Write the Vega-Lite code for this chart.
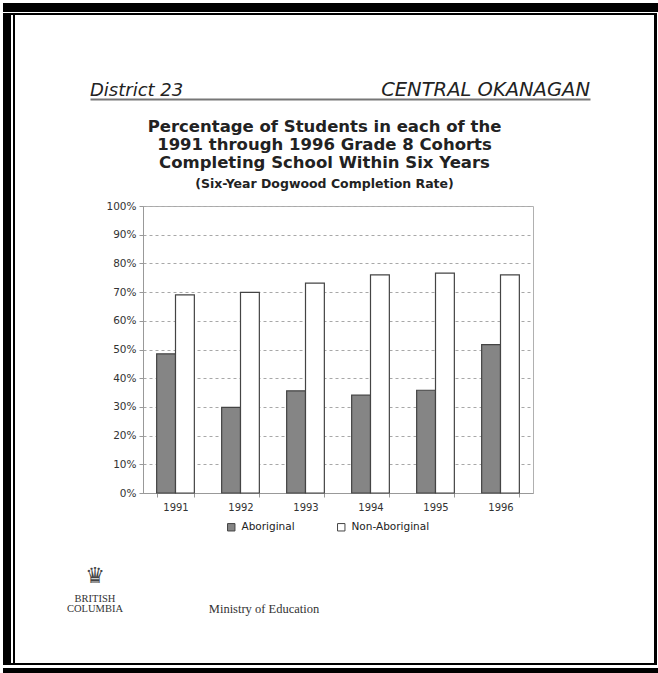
{
  "$schema": "https://vega.github.io/schema/vega-lite/v6.json",
  "background": "white",
  "padding": {"left": 3, "top": 3, "right": 0, "bottom": 0},
  "spacing": 0,
  "config": {
    "view": {"stroke": null},
    "concat": {"spacing": 0},
    "font": "DejaVu Sans"
  },
  "vconcat": [
    {"width": 655, "height": 9, "view": {"fill": "black"}, "data": {"values": []}, "mark": "point"},
    {"width": 655, "height": 1, "data": {"values": []}, "mark": "point"},
    {"width": 654, "height": 2, "view": {"fill": "black"}, "data": {"values": []}, "mark": "point"},
    {
      "spacing": 0,
      "hconcat": [
        {"width": 8, "height": 648, "view": {"fill": "black"}, "data": {"values": []}, "mark": "point"},
        {"width": 2, "height": 648, "data": {"values": []}, "mark": "point"},
        {"width": 2, "height": 648, "view": {"fill": "black"}, "data": {"values": []}, "mark": "point"},
        {
          "spacing": 0,
          "vconcat": [
            {"width": 639, "height": 65, "data": {"values": []}, "mark": "point"},
            {
              "spacing": 0,
              "hconcat": [
                {"width": 75, "height": 1, "data": {"values": []}, "mark": "point"},
                {
                  "width": 500,
                  "height": 19,
                  "data": {"values": [
                    {"label": "District 23", "side": "left"},
                    {"label": "CENTRAL OKANAGAN", "side": "right"}
                  ]},
                  "layer": [
                    {
                      "transform": [{"filter": "datum.side === 'left'"}],
                      "mark": {"type": "text", "align": "left", "baseline": "alphabetic", "dy": 6.5, "font": "DejaVu Sans", "fontStyle": "italic", "fontSize": 18, "fill": "#222"},
                      "encoding": {
                        "x": {"field": "side", "type": "nominal", "scale": {"type": "point", "domain": ["left", "right"], "padding": 0},
                              "axis": {"orient": "bottom", "labels": false, "ticks": false, "title": null, "grid": false, "domainColor": "#777", "domainWidth": 2}},
                        "text": {"field": "label", "type": "nominal"}
                      }
                    },
                    {
                      "transform": [{"filter": "datum.side === 'right'"}],
                      "mark": {"type": "text", "align": "right", "baseline": "alphabetic", "dy": 6.5, "font": "DejaVu Sans", "fontStyle": "italic", "fontSize": 19.5, "fill": "#222"},
                      "encoding": {
                        "x": {"field": "side", "type": "nominal"},
                        "text": {"field": "label", "type": "nominal"}
                      }
                    }
                  ]
                }
              ]
            },
            {"width": 1, "height": 18, "data": {"values": []}, "mark": "point"},
            {
              "spacing": 0,
              "resolve": {"scale": {"fill": "independent"}, "legend": {"fill": "independent"}},
              "hconcat": [
                {"width": 90, "height": 1, "data": {"values": []}, "mark": "point"},
                {
                  "width": 390,
                  "height": 287,
                  "view": {"stroke": "#b0b0b0", "strokeWidth": 1},
                  "title": {
                    "text": ["Percentage of Students in each of the", "1991 through 1996 Grade 8 Cohorts", "Completing School Within Six Years"],
                    "subtitle": "(Six-Year Dogwood Completion Rate)",
                    "anchor": "middle",
                    "frame": "bounds",
                    "dx": 5,
                    "font": "DejaVu Sans",
                    "fontSize": 16.5,
                    "fontWeight": "bold",
                    "color": "#222",
                    "lineHeight": 18,
                    "subtitleFont": "DejaVu Sans",
                    "subtitleFontSize": 12.5,
                    "subtitleFontWeight": "bold",
                    "subtitleColor": "#222",
                    "subtitlePadding": 6,
                    "offset": 11
                  },
                  "data": {"values": [
                    {"year": "1991", "group": "Aboriginal", "pct": 48.5},
                    {"year": "1991", "group": "Non-Aboriginal", "pct": 69.0},
                    {"year": "1992", "group": "Aboriginal", "pct": 29.8},
                    {"year": "1992", "group": "Non-Aboriginal", "pct": 69.9},
                    {"year": "1993", "group": "Aboriginal", "pct": 35.6},
                    {"year": "1993", "group": "Non-Aboriginal", "pct": 73.1},
                    {"year": "1994", "group": "Aboriginal", "pct": 34.1},
                    {"year": "1994", "group": "Non-Aboriginal", "pct": 76.0},
                    {"year": "1995", "group": "Aboriginal", "pct": 35.8},
                    {"year": "1995", "group": "Non-Aboriginal", "pct": 76.6},
                    {"year": "1996", "group": "Aboriginal", "pct": 51.7},
                    {"year": "1996", "group": "Non-Aboriginal", "pct": 76.0}
                  ]},
                  "mark": {"type": "bar", "stroke": "#444", "strokeWidth": 1.2},
                  "encoding": {
                    "x": {
                      "field": "year", "type": "nominal",
                      "scale": {"paddingInner": 0.42, "paddingOuter": 0.21},
                      "axis": {"title": null, "labelAngle": 0, "labelFont": "DejaVu Sans", "labelFontSize": 10, "labelColor": "#333", "labelPadding": 5,
                               "domainColor": "#999", "tickColor": "#999", "tickSize": 4, "tickBand": "extent", "grid": false}
                    },
                    "xOffset": {"field": "group", "type": "nominal", "scale": {"paddingInner": 0, "paddingOuter": 0}},
                    "y": {
                      "field": "pct", "type": "quantitative",
                      "scale": {"domain": [0, 100]},
                      "axis": {"title": null, "values": [0, 10, 20, 30, 40, 50, 60, 70, 80, 90, 100], "labelExpr": "datum.value + '%'",
                               "labelFont": "DejaVu Sans", "labelFontSize": 10.5, "labelColor": "#333", "labelPadding": 3,
                               "grid": true, "gridDash": [3, 3], "gridColor": "#a8a8a8", "domainColor": "#999", "tickColor": "#999", "tickSize": 4}
                    },
                    "fill": {
                      "field": "group", "type": "nominal",
                      "scale": {"domain": ["Aboriginal", "Non-Aboriginal"], "range": ["#858585", "#ffffff"]},
                      "legend": {"orient": "none", "legendX": 83, "legendY": 316, "direction": "horizontal", "title": null,
                                 "symbolType": "square", "symbolSize": 55, "symbolStrokeColor": "#444", "symbolStrokeWidth": 1,
                                 "labelFont": "DejaVu Sans", "labelFontSize": 10.5, "labelColor": "#222", "columnPadding": 40, "labelOffset": 5}
                    }
                  }
                }
              ]
            },
            {"width": 1, "height": 30, "data": {"values": []}, "mark": "point"},
            {
              "spacing": 0,
              "hconcat": [
                {"width": 47, "height": 1, "data": {"values": []}, "mark": "point"},
                {
                  "width": 66,
                  "height": 45,
                  "layer": [
                    {
                      "data": {"values": [{"t": "♛"}]},
                      "mark": {"type": "text", "font": "DejaVu Sans", "fontSize": 22, "fill": "#444", "dy": -13},
                      "encoding": {"text": {"field": "t", "type": "nominal"}}
                    },
                    {
                      "data": {"values": [{"t": ["BRITISH", "COLUMBIA"]}]},
                      "mark": {"type": "text", "font": "Liberation Serif", "fontSize": 10.5, "lineHeight": 10, "fill": "#333", "dy": 10.5},
                      "encoding": {"text": {"field": "t", "type": "nominal"}}
                    }
                  ]
                },
                {"width": 80, "height": 1, "data": {"values": []}, "mark": "point"},
                {
                  "width": 112,
                  "height": 45,
                  "data": {"values": [{"t": "Ministry of Education"}]},
                  "mark": {"type": "text", "font": "Liberation Serif", "fontSize": 12.5, "fill": "#333", "dy": 20},
                  "encoding": {"text": {"field": "t", "type": "nominal"}}
                }
              ]
            }
          ]
        },
        {"width": 3, "height": 648, "view": {"fill": "black"}, "data": {"values": []}, "mark": "point"}
      ]
    },
    {"width": 654, "height": 2, "view": {"fill": "black"}, "data": {"values": []}, "mark": "point"},
    {"width": 655, "height": 3, "data": {"values": []}, "mark": "point"},
    {"width": 655, "height": 5, "view": {"fill": "black"}, "data": {"values": []}, "mark": "point"}
  ]
}
